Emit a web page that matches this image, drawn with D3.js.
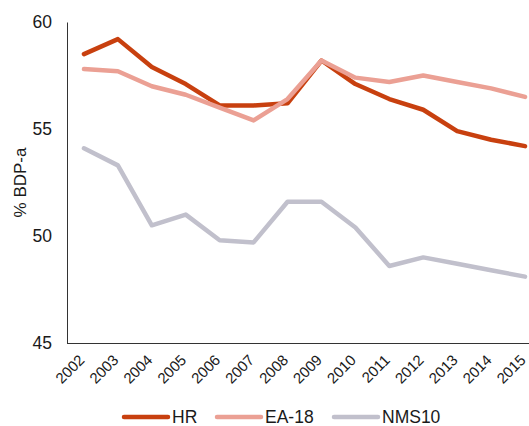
<!DOCTYPE html>
<html>
<head>
<meta charset="utf-8">
<script src="https://cdn.jsdelivr.net/npm/d3@7"></script>
<style>
  html, body { margin: 0; padding: 0; background: #fff; }
  svg { display: block; font-family: "Liberation Sans", Arial, sans-serif; }
</style>
</head>
<body>
<svg id="chart" width="529" height="426"></svg>
<script>
// Years on the category axis
const years = ["2002","2003","2004","2005","2006","2007","2008","2009","2010","2011","2012","2013","2014","2015"];
// Shares of GDP (%)
const hr    = [58.5, 59.2, 57.9, 57.1, 56.1, 56.1, 56.2, 58.2, 57.1, 56.4, 55.9, 54.9, 54.5, 54.2];
const ea18  = [57.8, 57.7, 57.0, 56.6, 56.0, 55.4, 56.4, 58.2, 57.4, 57.2, 57.5, 57.2, 56.9, 56.5];
const nms10 = [54.1, 53.3, 50.5, 51.0, 49.8, 49.7, 51.6, 51.6, 50.4, 48.6, 49.0, 48.7, 48.4, 48.1];
const yTicks = [45, 50, 55, 60];
const seriesNames = ["HR", "EA-18", "NMS10"];
const seriesColors = ["#C8400F", "#EBA094", "#C1C0CC"];

const FONT = "'Liberation Sans', Arial, sans-serif";
const svg = d3.select("#chart");
const plotLeft = 67, plotRight = 542, plotTop = 22, plotBottom = 343;

const x = d3.scalePoint().domain(years).range([plotLeft, plotRight]).padding(0.5);
const y = d3.scaleLinear().domain([45, 60]).range([plotBottom, plotTop]);

// Y axis
const yAxis = svg.append("g")
  .attr("transform", `translate(${plotLeft},0)`)
  .call(d3.axisLeft(y).tickValues(yTicks).tickSize(0).tickPadding(15).tickFormat(d3.format("d")));
yAxis.select(".domain").attr("stroke", "#333").attr("stroke-width", 1);
yAxis.selectAll("text")
  .style("font-size", "17.5px").style("font-family", FONT).attr("fill", "#1a1a1a");

// X axis with slanted year labels
const xAxis = svg.append("g")
  .attr("transform", `translate(0,${plotBottom})`)
  .call(d3.axisBottom(x).tickSize(0).tickPadding(0));
xAxis.select(".domain").attr("stroke", "#333").attr("stroke-width", 1)
  .attr("d", `M${plotLeft},0.5H${plotRight}`);
xAxis.selectAll("text")
  .style("font-size", "15px").style("font-family", FONT).attr("fill", "#1a1a1a")
  .attr("text-anchor", "end")
  .attr("dy", null).attr("y", 0)
  .attr("transform", "translate(1,18) rotate(-45)");

// Y axis title
svg.append("text")
  .attr("transform", `translate(26,${(plotTop + plotBottom) / 2}) rotate(-90)`)
  .attr("text-anchor", "middle")
  .style("font-size", "17px").style("font-family", FONT).attr("fill", "#1a1a1a")
  .text("% BDP-a");

// Lines: NMS10 first, then HR, with EA-18 on top
const line = d3.line().x((d, i) => x(years[i])).y(d => y(d));
const data = [hr, ea18, nms10];
[2, 0, 1].forEach(k => {
  svg.append("path")
    .datum(data[k])
    .attr("fill", "none")
    .attr("stroke", seriesColors[k])
    .attr("stroke-width", 4.5)
    .attr("stroke-linejoin", "round")
    .attr("stroke-linecap", "round")
    .attr("d", line);
});

// Legend
const legendX = [124, 217, 334];
seriesNames.forEach((name, i) => {
  const g = svg.append("g").attr("transform", `translate(${legendX[i]},417)`);
  g.append("line").attr("x1", 0).attr("x2", 44).attr("y1", 0).attr("y2", 0)
    .attr("stroke", seriesColors[i]).attr("stroke-width", 4.5).attr("stroke-linecap", "round");
  g.append("text").attr("x", 48).attr("y", 6.3)
    .style("font-size", "17.5px").style("font-family", FONT).attr("fill", "#1a1a1a").text(name);
});
</script>
</body>
</html>
